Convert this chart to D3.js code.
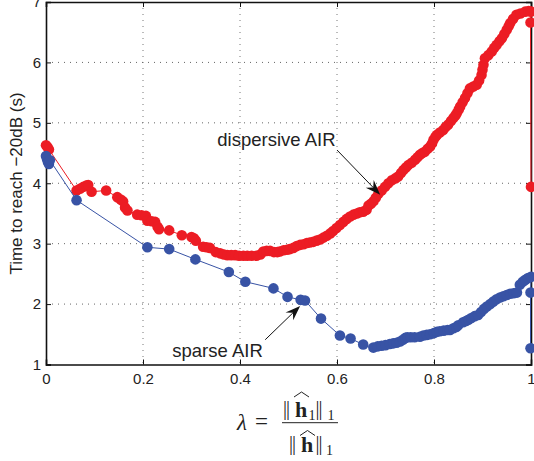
<!DOCTYPE html>
<html>
<head>
<meta charset="utf-8">
<script src="https://cdn.jsdelivr.net/npm/d3@7"></script>
<style>
  html, body { margin: 0; padding: 0; background: #fff; }
  svg { display: block; }
  text { font-family: "Liberation Sans", Arial, Helvetica, sans-serif; fill: #222; }
</style>
</head>
<body>
<svg id="chart" width="534" height="461"></svg>
<script>
// Convergence time vs. lambda for the two impulse responses
const xTicks = [0, 0.2, 0.4, 0.6, 0.8, 1];
const xTickLabels = ["0", "0.2", "0.4", "0.6", "0.8", "1"];
const yTicks = [1, 2, 3, 4, 5, 6, 7];
const yTickLabels = ["1", "2", "3", "4", "5", "6", "7"];

// dispersive AIR: [lambda, time (s)]
const dispersive = [
  [0.000,4.63],[0.003,4.60],[0.006,4.56],[0.063,3.88],[0.070,3.91],[0.077,3.94],[0.083,3.96],
  [0.087,3.97],[0.094,3.86],[0.124,3.88],[0.147,3.77],[0.154,3.73],[0.159,3.70],[0.163,3.60],
  [0.168,3.55],[0.188,3.48],[0.197,3.47],[0.206,3.46],[0.209,3.38],[0.218,3.37],[0.225,3.36],
  [0.230,3.28],[0.233,3.24],[0.254,3.22],[0.280,3.14],[0.300,3.11],[0.305,3.09],[0.309,3.05],
  [0.324,2.95],[0.331,2.94],[0.338,2.93],[0.350,2.86],[0.359,2.84],[0.367,2.82],[0.374,2.81],
  [0.382,2.81],[0.390,2.81],[0.398,2.80],[0.407,2.80],[0.415,2.80],[0.424,2.80],[0.434,2.80],
  [0.442,2.82],[0.448,2.87],[0.455,2.88],[0.462,2.88],[0.470,2.86],[0.477,2.86],[0.482,2.87],
  [0.490,2.89],[0.497,2.90],[0.503,2.91],[0.510,2.93],[0.517,2.96],[0.524,2.98],[0.531,2.99],
  [0.538,3.01],[0.544,3.02],[0.551,3.03],[0.558,3.05],[0.565,3.07],[0.572,3.10],[0.579,3.13],
  [0.586,3.17],[0.592,3.21],[0.599,3.26],[0.606,3.31],[0.613,3.36],[0.620,3.41],[0.627,3.45],
  [0.634,3.48],[0.641,3.50],[0.647,3.52],[0.654,3.53],[0.661,3.56],[0.665,3.63],[0.670,3.66],
  [0.675,3.70],[0.680,3.76],[0.685,3.82],[0.692,3.88],[0.699,3.94],[0.706,4.00],[0.713,4.05],
  [0.720,4.08],[0.726,4.11],[0.732,4.17],[0.737,4.22],[0.742,4.26],[0.747,4.30],[0.754,4.34],
  [0.761,4.39],[0.766,4.43],[0.771,4.47],[0.776,4.50],[0.781,4.52],[0.787,4.57],[0.792,4.61],
  [0.796,4.66],[0.799,4.72],[0.803,4.77],[0.806,4.80],[0.812,4.84],[0.819,4.88],[0.824,4.93],
  [0.829,4.97],[0.835,5.03],[0.840,5.08],[0.844,5.12],[0.847,5.16],[0.851,5.22],[0.854,5.27],
  [0.859,5.34],[0.864,5.41],[0.869,5.49],[0.874,5.57],[0.881,5.60],[0.888,5.63],[0.893,5.70],
  [0.898,5.79],[0.900,5.88],[0.902,5.96],[0.905,6.07],[0.912,6.12],[0.919,6.18],[0.924,6.24],
  [0.929,6.29],[0.935,6.35],[0.940,6.40],[0.945,6.47],[0.950,6.54],[0.954,6.60],[0.957,6.65],
  [0.963,6.72],[0.970,6.79],[0.978,6.81],[0.988,6.84],[0.995,6.85],[1.000,6.84],[0.999,6.66],
  [1.000,3.94]
];

// sparse AIR: [lambda, time (s)]
const sparse = [
  [0.000,4.45],[0.002,4.40],[0.004,4.35],[0.006,4.32],[0.008,4.38],[0.063,3.72],[0.209,2.94],
  [0.254,2.91],[0.308,2.74],[0.377,2.53],[0.411,2.37],[0.469,2.26],[0.498,2.12],[0.525,2.07],
  [0.534,2.06],[0.567,1.76],[0.606,1.48],[0.628,1.43],[0.654,1.33],[0.675,1.28],[0.684,1.30],
  [0.692,1.31],[0.700,1.32],[0.709,1.34],[0.716,1.35],[0.723,1.36],[0.730,1.38],[0.736,1.41],
  [0.741,1.44],[0.745,1.45],[0.752,1.45],[0.760,1.45],[0.771,1.46],[0.778,1.48],[0.785,1.49],
  [0.792,1.50],[0.800,1.52],[0.806,1.54],[0.812,1.55],[0.820,1.56],[0.828,1.57],[0.833,1.57],
  [0.840,1.60],[0.846,1.62],[0.850,1.65],[0.860,1.70],[0.866,1.72],[0.871,1.74],[0.877,1.77],
  [0.884,1.80],[0.891,1.82],[0.897,1.87],[0.903,1.92],[0.909,1.96],[0.916,2.00],[0.922,2.04],
  [0.929,2.08],[0.936,2.11],[0.943,2.13],[0.950,2.15],[0.957,2.17],[0.964,2.18],[0.971,2.19],
  [0.977,2.32],[0.983,2.37],[0.988,2.40],[0.994,2.43],[1.000,2.45],[0.999,2.19],[0.999,1.27]
];

// Callouts: label anchor, arrow tail and arrow tip, all in data units
const callouts = [
  { text: "dispersive AIR", label: [0.597, 4.62], tail: [0.600, 4.55], tip: [0.689, 3.81] },
  { text: "sparse AIR",     label: [0.447, 1.13], tail: [0.452, 1.41], tip: [0.524, 1.97] }
];

const RED = "#ec1c24", BLUE = "#3853a5";

const svg = d3.select("#chart");
const x = d3.scaleLinear().domain([0, 1]).range([46, 531]);
const y = d3.scaleLinear().domain([1, 7]).range([364.5, 2]);

// dotted grid
const grid = svg.append("g");
grid.selectAll("line.gx").data(xTicks.slice(1, -1)).join("line")
  .attr("x1", d => x(d)).attr("x2", d => x(d)).attr("y1", y(7)).attr("y2", y(1))
  .attr("stroke", "#777").attr("stroke-width", 1).attr("stroke-dasharray", "1,5");
grid.selectAll("line.gy").data(yTicks.slice(1, -1)).join("line")
  .attr("y1", d => y(d)).attr("y2", d => y(d)).attr("x1", x(0)).attr("x2", x(1))
  .attr("stroke", "#666").attr("stroke-width", 1).attr("stroke-dasharray", "1,5");

// axes (inward ticks)
svg.append("g").attr("transform", `translate(0,${y(1)})`)
  .call(d3.axisBottom(x).tickValues(xTicks).tickFormat((d, i) => xTickLabels[i]).tickSize(-5).tickPadding(8.5));
svg.append("g").attr("transform", `translate(${x(0)},0)`)
  .call(d3.axisLeft(y).tickValues(yTicks).tickFormat((d, i) => yTickLabels[i]).tickSize(-5).tickPadding(5));
svg.append("g").attr("transform", `translate(0,${y(7)})`)
  .call(d3.axisTop(x).tickValues(xTicks).tickFormat("").tickSize(-5));
svg.append("g").attr("transform", `translate(${x(1)},0)`)
  .call(d3.axisRight(y).tickValues(yTicks).tickFormat("").tickSize(-5));
svg.selectAll(".domain").attr("stroke", "#111").attr("stroke-width", 1.6);
svg.selectAll(".tick line").attr("stroke", "#111");
svg.selectAll(".tick text").style("font-size", "15px").attr("fill", "#222");

// series
const line = d3.line().x(d => x(d[0])).y(d => y(d[1]));
function drawSeries(data, color) {
  const g = svg.append("g");
  g.append("path").datum(data).attr("d", line)
    .attr("fill", "none").attr("stroke", color).attr("stroke-width", 1);
  g.selectAll("circle").data(data).join("circle")
    .attr("cx", d => x(d[0])).attr("cy", d => y(d[1])).attr("r", 5.3)
    .attr("fill", color);
}
drawSeries(dispersive, RED);
drawSeries(sparse, BLUE);

// callout labels with arrows
callouts.forEach(c => {
  const [tx, ty] = [x(c.tail[0]), y(c.tail[1])];
  const [px, py] = [x(c.tip[0]), y(c.tip[1])];
  const ang = Math.atan2(py - ty, px - tx);
  const L = 15, W = 5.5, N = 10;
  const ca = Math.cos(ang), sa = Math.sin(ang);
  const pt = (a, b) => [px - a * ca - b * sa, py - a * sa + b * ca];
  const head = [pt(0, 0), pt(L, W), pt(N, 0), pt(L, -W)];
  svg.append("line").attr("x1", tx).attr("y1", ty).attr("x2", pt(N, 0)[0]).attr("y2", pt(N, 0)[1])
    .attr("stroke", "#111").attr("stroke-width", 1);
  svg.append("path").attr("d", "M" + head.join("L") + "Z").attr("fill", "#111");
  svg.append("text").attr("x", x(c.label[0])).attr("y", y(c.label[1]))
    .attr("text-anchor", "end").style("font-size", "18.5px").text(c.text);
});

// y axis title
svg.append("text").attr("transform", "translate(22,183.5) rotate(-90)")
  .attr("text-anchor", "middle").style("font-size", "17px").text("Time to reach \u221220dB (s)");

// x axis title: lambda = ||h1||_1 / ||h||_1
const mf = svg.append("g");
const serif = (t, xx, yy, size, opts = {}) => {
  const e = mf.append("text").attr("x", xx).attr("y", yy).style("font-size", size + "px")
    .style("font-family", "'Liberation Serif', 'Times New Roman', serif").text(t);
  if (opts.italic) e.style("font-style", "italic");
  if (opts.bold) e.style("font-weight", "bold");
  if (opts.ls != null) e.style("letter-spacing", opts.ls + "px");
  return e;
};
serif("\u03bb", 237, 430, 23, { italic: true });
serif("=", 255, 429, 23);
mf.append("line").attr("x1", 282).attr("x2", 338).attr("y1", 422.7).attr("y2", 422.7)
  .attr("stroke", "#222").attr("stroke-width", 1);
// numerator
serif("||", 283, 415, 20, { ls: -1 });
serif("h", 295, 416.7, 22, { bold: true });
serif("1", 308.5, 420, 14);
serif("||", 315.5, 415, 20, { ls: -1 });
serif("1", 327.5, 420, 14);
// denominator
serif("||", 289, 450, 20, { ls: -1 });
serif("h", 301, 451.7, 22, { bold: true });
serif("||", 315.5, 450, 20, { ls: -1 });
serif("1", 326, 455, 14);
// wide hats
const hat = (cx, top, w) => mf.append("path")
  .attr("d", `M${cx - w / 2},${top + 5} L${cx},${top} L${cx + w / 2},${top + 5}`)
  .attr("fill", "none").attr("stroke", "#222").attr("stroke-width", 1);
hat(301.5, 392, 15);
hat(307.5, 430.5, 15);
</script>
</body>
</html>
